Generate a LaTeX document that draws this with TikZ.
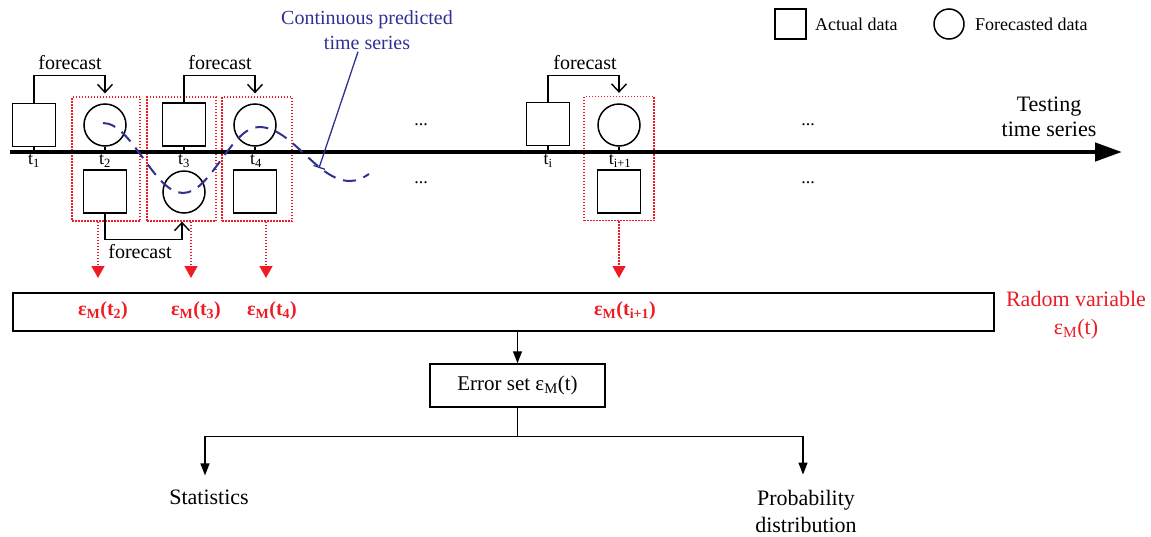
\documentclass[tikz,border=0pt]{standalone}
\usepackage{fontspec}
\setmainfont{Liberation Serif}
\usetikzlibrary{arrows.meta}
\definecolor{errred}{HTML}{ED1C24}
\definecolor{curveblue}{HTML}{2E3192}
\newcommand{\tlab}[1]{t\textsubscript{#1}}
\newcommand{\epsM}{ε\textsubscript{M}}
\begin{document}
\begin{tikzpicture}[x=1pt,y=-1pt,
  actual/.style={draw, line width=1.5pt, minimum width=43pt, minimum height=43pt, inner sep=0pt},
  forecasted/.style={draw, circle, line width=1.5pt, minimum size=42pt, inner sep=0pt},
  errwin/.style={draw=errred, line width=1.3pt, dash pattern=on 1.5pt off 1.5pt, inner sep=0pt, minimum height=124pt},
  fc/.style={line width=1.4pt, -{Straight Barb[length=8pt,width=15pt]}},
  errarrow/.style={errred, line width=1.3pt, dash pattern=on 1.5pt off 1.5pt, -{Triangle[length=12pt,width=13pt]}},
  flow/.style={line width=1.3pt, -{Triangle[length=12pt,width=9pt]}},
  tickmark/.style={line width=1.4pt},
  lbl/.style={font=\fontsize{20}{24}\selectfont, inner sep=0pt},
  tlbl/.style={font=\fontsize{18}{20}\selectfont, inner sep=0pt},
  dots/.style={font=\fontsize{18}{20}\selectfont, inner sep=0pt},
  errlbl/.style={font=\fontsize{20}{24}\selectfont\bfseries, text=errred, inner sep=0pt},
  big/.style={font=\fontsize{22}{27}\selectfont, inner sep=0pt, align=center}
]
\useasboundingbox (0,0) rectangle (1151,536);

% legend
\node[draw, line width=1.5pt, minimum width=31pt, minimum height=30pt, inner sep=0pt] (legsq) at (790.5,24) {};
\node[font=\fontsize{18}{20}\selectfont, inner sep=0pt, anchor=west] (legsqt) at (815,24) {Actual data};
\node[draw, circle, line width=1.5pt, minimum size=30pt, inner sep=0pt] (legci) at (949,24) {};
\node[font=\fontsize{18}{20}\selectfont, inner sep=0pt, anchor=west] (legcit) at (975,24) {Forecasted data};

% error windows around each forecast
\node[errwin, minimum width=68pt] (w2) at (106,159) {};
\node[errwin, minimum width=69pt] (w3) at (181.5,159) {};
\node[errwin, minimum width=70pt] (w4) at (257,159) {};
\node[errwin, minimum width=70pt] (wi) at (619,158.5) {};

% time axis
\coordinate (axL) at (10,152);
\coordinate (axR) at (1122,152);
\draw[line width=4.5pt, -{Triangle[length=27pt,width=18pt]}] (axL) -- (axR);
\node[big, font=\fontsize{22}{25}\selectfont] (testing) at (1049,117) {Testing\\time series};

% samples above and below the axis
\node[actual] (sq1) at (34,125) {};
\node[forecasted] (c2) at (105,125) {};
\node[actual] (sqb2) at (105,191.5) {};
\node[actual] (sq3) at (184,124.5) {};
\node[forecasted] (cb3) at (184,192) {};
\node[forecasted] (c4) at (255,125) {};
\node[actual] (sqb4) at (255,191.5) {};
\node[actual] (sqi) at (548,124) {};
\node[forecasted] (ci1) at (619,125) {};
\node[actual] (sqbi1) at (619,191.5) {};

\foreach \n in {sq1,c2,sq3,c4,sqi,ci1}
  \draw[tickmark] (\n.south) -- (\n.south |- axL);

\node[tlbl] (t1) at (34,161) {\tlab{1}};
\node[tlbl] (t2) at (105,161) {\tlab{2}};
\node[tlbl] (t3) at (184,161) {\tlab{3}};
\node[tlbl] (t4) at (256,161) {\tlab{4}};
\node[tlbl] (ti) at (548,161) {\tlab{i}};
\node[tlbl] (ti1) at (620,161) {\tlab{i+1}};

\node[dots] (d1) at (421,125) {...};
\node[dots] (d2) at (421,183) {...};
\node[dots] (d3) at (808,125) {...};
\node[dots] (d4) at (808,183) {...};

% forecast steps
\draw[fc] (sq1.north) -- ++(0,-27) -| ([yshift=3pt]c2.north |- w2.north);
\node[lbl] (f1) at (70,63) {forecast};
\draw[fc] (sq3.north) -- ++(0,-27) -| ([yshift=3pt]c4.north |- w4.north);
\node[lbl] (f2) at (220,63) {forecast};
\draw[fc] (sqi.north) -- ++(0,-26) -| ([yshift=3pt]ci1.north |- wi.north);
\node[lbl] (f3) at (585,63) {forecast};
\draw[fc] (sqb2.south) -- ++(0,26) -| ([xshift=-2pt]cb3.south |- w3.south);
\node[lbl] (f4) at (140,252) {forecast};

% error extraction
\coordinate (e2) at (98,278);
\coordinate (e3) at (191,278);
\coordinate (e4) at (266,278);
\coordinate (ei) at (619,278);
\draw[errarrow] (e2 |- w2.south) -- (e2);
\draw[errarrow] (e3 |- w3.south) -- (e3);
\draw[errarrow] (e4 |- w4.south) -- (e4);
\draw[errarrow] (ei |- wi.south) -- (ei);

\node[draw, line width=1.5pt, minimum width=981pt, minimum height=38pt, inner sep=0pt] (rv) at (503.5,312) {};
\node[errlbl] (el2) at (103,311) {\epsM(\tlab{2})};
\node[errlbl] (el3) at (196,311) {\epsM(\tlab{3})};
\node[errlbl] (el4) at (272,311) {\epsM(\tlab{4})};
\node[errlbl] (eli) at (625,311) {\epsM(\tlab{i+1})};
\node[big, text=errred, font=\fontsize{22}{28}\selectfont] (rvt) at (1076,315) {Radom variable\\\epsM(t)};

\node[draw, line width=1.5pt, minimum width=175pt, minimum height=43pt, inner sep=0pt,
      font=\fontsize{21}{24}\selectfont] (err) at (517.5,385.5) {Error set \epsM(t)};
\draw[flow] (err.north |- rv.south) -- (err.north);

\node[big] (stat) at (209,497) {Statistics};
\node[big] (prob) at (806,511) {Probability\\distribution};
\draw[line width=1.3pt] (err.south) -- ++(0,29) coordinate (split);
\draw[flow] (split) -| ([xshift=-4pt,yshift=14pt]stat.north);
\draw[flow] (split) -| ([xshift=-3pt,yshift=15pt]prob.north);

% continuous predicted series
\node[big, text=curveblue, font=\fontsize{20}{25}\selectfont] (cpts) at (367,30) {Continuous predicted\\time series};
\coordinate (ptr) at (319,168);
\draw[curveblue, line width=1.3pt, -{Bar[width=12pt]}] ([xshift=-9pt,yshift=-2pt]cpts.south) -- (ptr);
\draw[curveblue, line width=2pt, dash pattern=on 13pt off 8pt]
  (103,123) .. controls (132,123) and (154,193) .. (183,193)
  .. controls (211,193) and (231,127) .. (259,127)
  .. controls (292,127) and (317,181) .. (350,181)
  .. controls (357,181) and (363,178) .. (369,174);
\end{tikzpicture}
\end{document}
